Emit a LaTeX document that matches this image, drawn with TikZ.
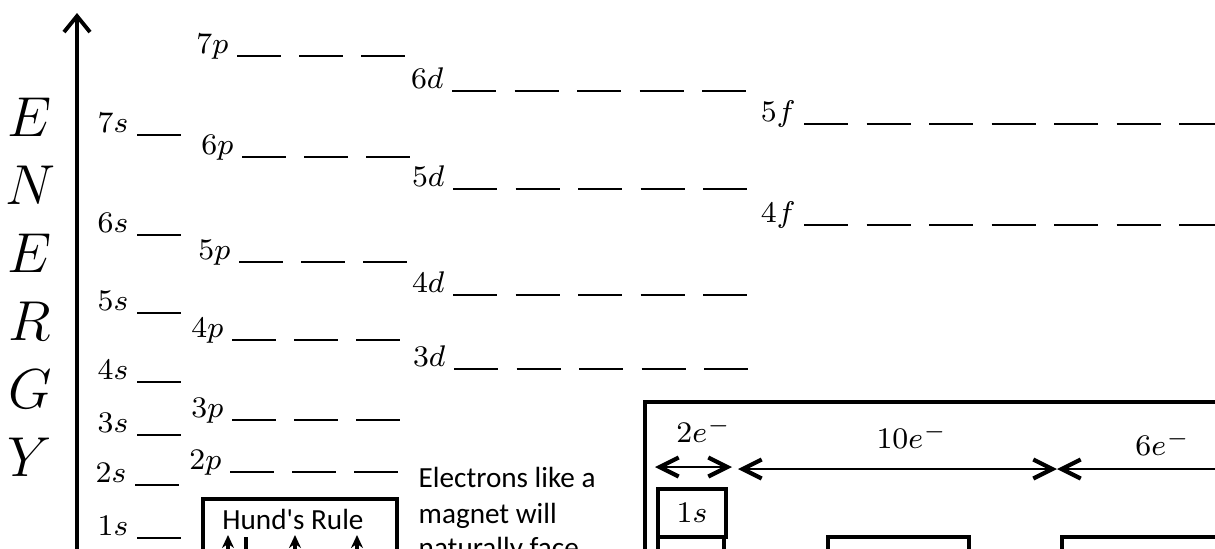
\RequirePackage{fix-cm}
\documentclass[tikz,border=0pt]{standalone}
\usepackage{fontspec}
\newfontfamily\calfont{Carlito}
\usetikzlibrary{arrows.meta}
\newcommand\orbrow[6]{%
  \node[orblabel] (#1) at (#4-8,#3-3) {$#2$};
  \foreach \k in {1,...,#5} {\draw[blank] (#4+#6*\k-#6,#3) -- ++(44,0);}
}
\begin{document}
\begin{tikzpicture}[x=0.01cm,y=-0.01cm,
  orblabel/.style={anchor=base east,inner sep=0pt,font=\fontsize{8.5}{10}\selectfont},
  blank/.style={line width=0.6pt},
  energy/.style={inner sep=0pt,font=\fontsize{16}{19}\selectfont},
  calib/.style={inner sep=0pt,font=\calfont\fontsize{8.3}{10}\selectfont},
  frame/.style={line width=0.9pt},
  elabel/.style={anchor=base,inner sep=0pt,font=\fontsize{8.5}{10}\selectfont},
  axis/.style={line width=0.9pt,-{Straight Barb[length=0.16cm,width=0.26cm,line width=1.1pt]}},
  dimarrow/.style={line width=0.8pt,{Straight Barb[length=0.19cm,width=0.19cm,line width=1.2pt]}-{Straight Barb[length=0.19cm,width=0.19cm,line width=1.2pt]}},
  halfarrow/.style={line width=0.8pt,{Straight Barb[length=0.19cm,width=0.19cm,line width=1.2pt]}-},
  spin/.style={line width=1.2pt,-{Stealth[length=0.13cm,width=0.12cm]}},
]
\clip (0,0) rectangle (1215,548);
% energy axis
\coordinate (axbot) at (77,560);
\coordinate (axtop) at (77,13);
\draw[axis] (axbot) -- (axtop);
\node[energy] (eE1) at (30,117) {$E$};
\node[energy] (eN)  at (30,185) {$N$};
\node[energy] (eE2) at (30,253) {$E$};
\node[energy] (eR)  at (30,321) {$R$};
\node[energy] (eG)  at (30,389) {$G$};
\node[energy] (eY)  at (30,457) {$Y$};
% s orbitals
\orbrow{o7s}{7s}{135}{137}{1}{62}
\orbrow{o6s}{6s}{235}{137}{1}{62}
\orbrow{o5s}{5s}{313}{137}{1}{62}
\orbrow{o4s}{4s}{382}{137}{1}{62}
\orbrow{o3s}{3s}{435}{137}{1}{62}
\orbrow{o2s}{2s}{485}{135}{1}{62}
\orbrow{o1s}{1s}{538}{137}{1}{62}
% p orbitals
\orbrow{o7p}{7p}{56}{237}{3}{62}
\orbrow{o6p}{6p}{157}{242}{3}{62}
\orbrow{o5p}{5p}{262}{239}{3}{62}
\orbrow{o4p}{4p}{340}{232}{3}{62}
\orbrow{o3p}{3p}{420}{232}{3}{62}
\orbrow{o2p}{2p}{472}{230}{3}{62}
% d orbitals
\orbrow{o6d}{6d}{91}{452}{5}{62.5}
\orbrow{o5d}{5d}{189}{453}{5}{62.5}
\orbrow{o4d}{4d}{295}{453}{5}{62.5}
\orbrow{o3d}{3d}{369}{454}{5}{62.5}
% f orbitals
\orbrow{o5f}{5f}{124}{804}{7}{62.5}
\orbrow{o4f}{4f}{225}{804}{7}{62.5}
% Hund's rule box
\draw[frame] (203,499) rectangle (397,620);
\node[calib,anchor=base] (hund) at (293,529) {Hund\textquotesingle s Rule};
\coordinate (s1b) at (228,600); \coordinate (s1t) at (228,535);
\coordinate (s2t) at (246,537); \coordinate (s2b) at (246,600);
\coordinate (s3b) at (295,600); \coordinate (s3t) at (295,535);
\coordinate (s4b) at (357,600); \coordinate (s4t) at (357,535);
\draw[spin] (s1b) -- (s1t);
\draw[spin] (s2t) -- (s2b);
\draw[spin] (s3b) -- (s3t);
\draw[spin] (s4b) -- (s4t);
% magnet text
\node[calib,anchor=base west] (t1) at (418,487) {Electrons like a};
\node[calib,anchor=base west] (t2) at (418,523) {magnet will};
\node[calib,anchor=base west] (t3) at (418,557) {naturally face};
% electron capacity box
\draw[frame] (645,402) rectangle (1260,620);
\node[elabel] (e2)  at (704,442)  {$2e^{-}$};
\node[elabel] (e10) at (912,448)  {$10e^{-}$};
\node[elabel] (e6)  at (1163,455) {$6e^{-}$};
\coordinate (a2l) at (655,467);  \coordinate (a2r) at (732,467);
\coordinate (a10l) at (738,469); \coordinate (a10r) at (1057,469);
\coordinate (a6l) at (1057,469); \coordinate (a6r) at (1260,469);
\draw[dimarrow] (a2l) -- (a2r);
\draw[dimarrow] (a10l) -- (a10r);
\draw[halfarrow] (a6l) -- (a6r);
\node[draw,frame,minimum width=0.68cm,minimum height=0.48cm,inner sep=0pt,font=\fontsize{8.5}{10}\selectfont] (b1s) at (692,513) {$1s$};
\draw[frame] (658,537) rectangle (724,620);
\draw[frame] (828,537) rectangle (969,620);
\draw[frame] (1062,537) rectangle (1260,620);
\end{tikzpicture}
\end{document}
